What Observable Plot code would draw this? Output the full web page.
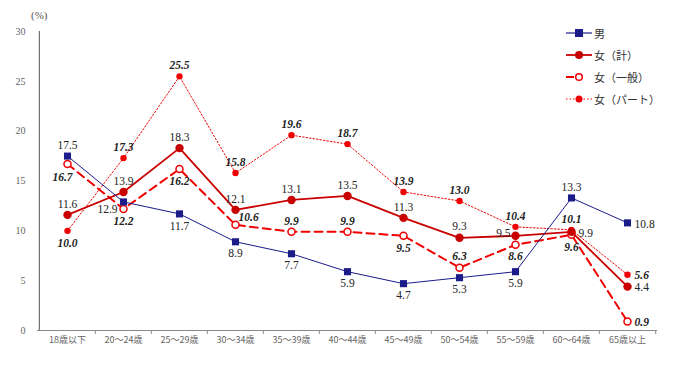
<!DOCTYPE html>
<html><head><meta charset="utf-8">
<script src="https://cdn.jsdelivr.net/npm/d3@7"></script>
<script src="https://cdn.jsdelivr.net/npm/@observablehq/plot@0.6"></script>
<style>
body{margin:0;background:#fff;}
#wrap{position:relative;width:677px;height:366px;overflow:hidden;}
#wrap svg.plot{position:absolute;left:0;top:0;}
#unit{position:absolute;left:31px;top:9px;font:11px "Liberation Serif",serif;color:#555;}
#legend{position:absolute;left:566px;top:22px;font:11px "Noto Sans CJK JP",sans-serif;color:#333;}
#legend .row{display:flex;align-items:center;height:22px;}
#legend svg{margin-right:2px;}
</style></head><body><div id="wrap"><div id="unit">(%)</div><div id="legend"></div></div>
<script>
const categories = ["18歳以下","20～24歳","25～29歳","30～34歳","35～39歳","40～44歳","45～49歳","50～54歳","55～59歳","60～64歳","65歳以上"];
const seriesNames = ["男","女（計）","女（一般）","女（パート）"];
const male = [17.5,12.9,11.7,8.9,7.7,5.9,4.7,5.3,5.9,13.3,10.8];
const femaleTotal = [11.6,13.9,18.3,12.1,13.1,13.5,11.3,9.3,9.5,9.9,4.4];
const femaleGeneral = [16.7,12.2,16.2,10.6,9.9,9.9,9.5,6.3,8.6,9.6,0.9];
const femalePart = [10.0,17.3,25.5,15.8,19.6,18.7,13.9,13.0,10.4,10.1,5.6];
const yTicks = [0,5,10,15,20,25,30];
// label placement codes (t=above, b=below, l=left, r=right)
const malePos = ["t","lb","b","b","b","b","b","b","b","t","r"];
const femaleTotalPos = ["t","t","t","t","t","t","t","t","l","r","r"];
const femaleGeneralPos = ["bl","b","b","tr","t","t","b","t","b","b","r"];
const femalePartPos = ["b","t","t","t","t","t","t","t","t","t","r"];

const W = 677, H = 366, mL = 37, mR = 20, mT = 31, mB = 36;
const step = (W - mL - mR) / categories.length;

const offsets = {
  t:{dx:0,dy:-11,textAnchor:"middle"},
  b:{dx:0,dy:12,textAnchor:"middle"},
  l:{dx:-5,dy:-3,textAnchor:"end"},
  lb:{dx:-6,dy:7,textAnchor:"end"},
  r:{dx:7,dy:1,textAnchor:"start"},
  bl:{dx:-5,dy:13,textAnchor:"middle"},
  tr:{dx:3,dy:-8,textAnchor:"start"}
};

function rows(vals, pos){ return categories.map((c,i)=>({cat:c, v:vals[i], pos:pos[i]})); }
const sMale = rows(male, malePos);
const sTotal = rows(femaleTotal, femaleTotalPos);
const sGen = rows(femaleGeneral, femaleGeneralPos);
const sPart = rows(femalePart, femalePartPos);

function labels(data, style){
  return Object.keys(offsets).map(k => Plot.text(data.filter(d=>d.pos===k), {
    x:"cat", y:"v", text:d=>d.v.toFixed(1), ...offsets[k],
    fontFamily:"Liberation Serif", fontSize:11.5, fill:"#222", ...style
  }));
}

const colMale = "#1b1b8a", colTotal = "#c80000", colRed = "#f00000";

const chart = Plot.plot({
  width: W, height: H, marginLeft: mL, marginRight: mR, marginTop: mT, marginBottom: mB,
  style:{background:"transparent", fontFamily:"Noto Sans CJK JP, sans-serif", fontSize:"9px", color:"#666"},
  x:{type:"point", domain:categories, padding:0.5, label:null, tickSize:0, tickPadding:6},
  y:{domain:[0,30], ticks:yTicks, label:null, tickSize:0, tickPadding:12, tickFormat:d=>d},
  marks:[
    Plot.ruleY([0], {stroke:"#888"}),
    Plot.ruleX([categories[0]], {y1:0, y2:30, dx:-step/2, stroke:"#555"}),
    Plot.ruleX(categories.slice(1), {y1:0, y2:-0.4, dx:-step/2, stroke:"#888"}),
    Plot.ruleX([categories[categories.length-1]], {y1:0, y2:-0.4, dx:step/2, stroke:"#888"}),
    Plot.line(sPart, {x:"cat", y:"v", stroke:colRed, strokeWidth:1, strokeDasharray:"1.5,2"}),
    Plot.dot(sPart, {x:"cat", y:"v", r:3.2, fill:colRed}),
    Plot.line(sGen, {x:"cat", y:"v", stroke:colRed, strokeWidth:2, strokeDasharray:"8,5"}),
    Plot.dot(sGen, {x:"cat", y:"v", r:3.5, fill:"white", stroke:colRed, strokeWidth:1.5}),
    Plot.line(sTotal, {x:"cat", y:"v", stroke:colTotal, strokeWidth:1.8}),
    Plot.dot(sTotal, {x:"cat", y:"v", r:4.2, fill:colTotal}),
    Plot.line(sMale, {x:"cat", y:"v", stroke:colMale, strokeWidth:1}),
    Plot.dot(sMale, {x:"cat", y:"v", r:4, symbol:"square", fill:colMale}),
    ...labels(sMale, {}),
    ...labels(sTotal, {}),
    ...labels(sGen, {fontStyle:"italic", fontWeight:"bold"}),
    ...labels(sPart, {fontStyle:"italic", fontWeight:"bold"})
  ]
});
chart.classList.add("plot");
chart.querySelectorAll('[aria-label^="y-axis"] text').forEach(t=>{
  t.setAttribute("font-family","Liberation Serif"); t.setAttribute("font-size","10");
});
document.getElementById("wrap").prepend(chart);

// legend
const legendSpecs = [
  {stroke:colMale, width:1.2, dash:null, marker:'<rect x="9" y="2" width="8" height="8" fill="'+colMale+'"/>'},
  {stroke:colTotal, width:1.8, dash:null, marker:'<circle cx="13" cy="6" r="4" fill="'+colTotal+'"/>'},
  {stroke:colRed, width:2, dash:"8,20", marker:'<circle cx="13" cy="6" r="3.3" fill="white" stroke="'+colRed+'" stroke-width="1.5"/>'},
  {stroke:colRed, width:1, dash:"1.5,2", marker:'<circle cx="13" cy="6" r="3.5" fill="'+colRed+'"/>'}
];
const lg = document.getElementById("legend");
seriesNames.forEach((n,i)=>{
  const s = legendSpecs[i];
  const row = document.createElement("div"); row.className="row";
  row.innerHTML = '<svg width="26" height="12"><line x1="0" y1="6" x2="26" y2="6" stroke="'+s.stroke+'" stroke-width="'+s.width+'"'+(s.dash?' stroke-dasharray="'+s.dash+'"':'')+'/>'+s.marker+'</svg><span>'+n+'</span>';
  lg.appendChild(row);
});
</script></body></html>
